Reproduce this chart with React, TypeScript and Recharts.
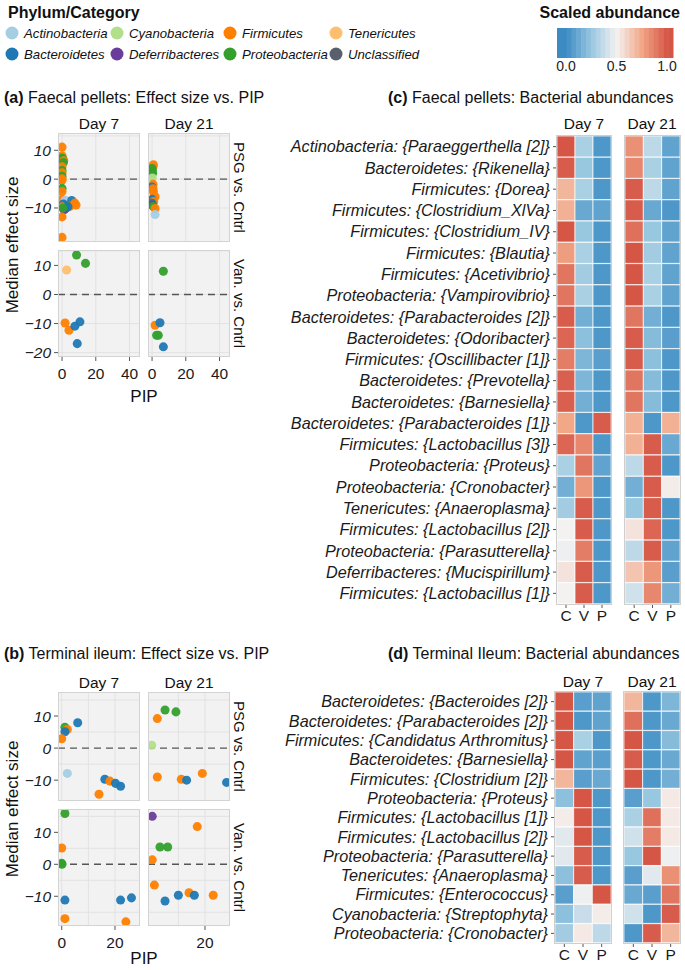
import React from 'react';
import {
  ScatterChart, Scatter, XAxis, YAxis, ZAxis, CartesianGrid, ReferenceLine, Cell, BarChart, Bar,
} from 'recharts';

const FONT = '"Liberation Sans", Arial, Helvetica, sans-serif';

// ---------- legend / categories ----------
const phyla = ['Actinobacteria', 'Bacteroidetes', 'Cyanobacteria', 'Deferribacteres', 'Firmicutes', 'Proteobacteria', 'Tenericutes', 'Unclassified'];
const phylumCodes = ['Ac', 'Ba', 'Cy', 'De', 'Fi', 'Pr', 'Te', 'Un'];
const phylumColors = ['#a6cee3', '#1f78b4', '#b2df8a', '#6a3d9a', '#ff7f00', '#33a02c', '#fdbf6f', '#57606c'];
const legendOrder = ['Actinobacteria', 'Cyanobacteria', 'Firmicutes', 'Tenericutes', 'Bacteroidetes', 'Deferribacteres', 'Proteobacteria', 'Unclassified'];

const dayLabels = ['Day 7', 'Day 21'];
const contrastLabels = ['PSG vs. Cntrl', 'Van. vs. Cntrl'];
const groupLabels = ['C', 'V', 'P'];

// ---------- scatter data: [PIP, median effect size, phylum] ----------
type Pt = [number, number, string];
const faecalPsgDay7: Pt[] = [
  [0, 11.1, 'Fi'], [0, 8.1, 'Fi'], [0, 7.3, 'Pr'], [0.5, 7.0, 'Pr'], [1, 6.4, 'Fi'], [0.8, 5.8, 'Pr'],
  [0, 4.3, 'Fi'], [0, 3.0, 'Pr'], [0, 2.2, 'Fi'], [0, 1.0, 'Pr'], [0, 0.1, 'Fi'], [0, -0.4, 'Fi'],
  [0, -3.2, 'Pr'], [0, -4.3, 'Fi'], [0, -7.0, 'Fi'], [1.8, -7.3, 'Ac'], [5.7, -7.4, 'Ba'], [7.6, -8.3, 'Fi'],
  [8.3, -9.0, 'Fi'], [4.7, -9.4, 'Fi'], [2.7, -9.2, 'Pr'], [0.8, -8.6, 'Ba'], [0, -9.6, 'Fi'], [1.8, -10.3, 'De'],
  [2.6, -9.9, 'Ba'], [1.2, -10.6, 'De'], [3.5, -9.6, 'Ba'], [0.5, -10.0, 'Pr'], [0, -13.1, 'Fi'], [0, -20.2, 'Fi'],
];
const faecalPsgDay21: Pt[] = [
  [0.8, 5.0, 'Fi'], [0.6, 4.3, 'Fi'], [0, 3.7, 'Pr'], [0.2, 2.8, 'Pr'], [0.3, 2.0, 'Pr'], [0.2, 0.4, 'Cy'],
  [0.6, -1.8, 'Fi'], [0, -2.7, 'Ba'], [0.6, -3.3, 'Fi'], [0.8, -4.4, 'Fi'], [1.8, -6.1, 'Fi'], [0, -7.0, 'Ba'],
  [1.0, -7.8, 'Fi'], [0, -8.4, 'Ba'], [0.3, -9.0, 'De'], [0.6, -9.4, 'Pr'], [1.8, -10.2, 'Fi'], [1.8, -12.3, 'Ac'],
];
const faecalVanDay7: Pt[] = [
  [8.6, 13.6, 'Pr'], [13.9, 10.7, 'Pr'], [2.7, 8.4, 'Te'], [1.8, -9.8, 'Fi'], [4.1, -12.3, 'Fi'],
  [7.6, -10.9, 'Ba'], [10.6, -9.4, 'Ba'], [9.0, -16.9, 'Ba'],
];
const faecalVanDay21: Pt[] = [
  [6.7, 8.0, 'Pr'], [1.8, -10.6, 'Fi'], [4.7, -9.7, 'Ba'], [2.7, -14.0, 'Pr'], [3.7, -14.0, 'Pr'], [6.7, -18.0, 'Ba'],
];
const ileumPsgDay7: Pt[] = [
  [1.2, 6.5, 'Pr'], [2.1, 5.8, 'Fi'], [1.2, 5.1, 'Ba'], [0, 2.9, 'Fi'], [6.0, 7.9, 'Ba'], [2.1, -7.9, 'Ac'],
  [16.2, -9.7, 'Ba'], [18.1, -10.3, 'Fi'], [20.2, -11.0, 'Ba'], [22.1, -11.9, 'Ba'], [14.0, -14.4, 'Fi'],
];
const ileumPsgDay21: Pt[] = [
  [2.1, 9.2, 'Fi'], [5.0, 11.9, 'Pr'], [9.1, 11.3, 'Pr'], [0, 0.9, 'Cy'], [2.1, -9.0, 'Fi'],
  [11.1, -9.7, 'Fi'], [13.1, -10.0, 'Ba'], [19.0, -7.9, 'Fi'], [28.1, -10.7, 'Ba'],
];
const ileumVanDay7: Pt[] = [
  [1.2, 15.9, 'Pr'], [0, 5.1, 'Fi'], [0, 0.3, 'Pr'], [0.1, 0.0, 'Pr'], [1.2, -11.2, 'Ba'], [1.2, -17.0, 'Fi'],
  [22.1, -11.2, 'Ba'], [26.2, -10.5, 'Ba'], [24.1, -18.0, 'Fi'],
];
const ileumVanDay21: Pt[] = [
  [0.2, 15.0, 'De'], [17.1, 11.8, 'Fi'], [3.1, 5.4, 'Pr'], [6.0, 5.4, 'Pr'], [0.2, 1.4, 'Fi'], [1.0, -6.5, 'Fi'],
  [5.0, -11.5, 'Ba'], [10.0, -9.7, 'Ba'], [14.0, -8.9, 'Fi'], [16.0, -9.7, 'Ba'], [23.1, -9.7, 'Fi'],
];

// ---------- heatmap data ----------
const faecalTaxa = [
  'Actinobacteria: {Paraeggerthella [2]}', 'Bacteroidetes: {Rikenella}', 'Firmicutes: {Dorea}',
  'Firmicutes: {Clostridium_XlVa}', 'Firmicutes: {Clostridium_IV}', 'Firmicutes: {Blautia}',
  'Firmicutes: {Acetivibrio}', 'Proteobacteria: {Vampirovibrio}', 'Bacteroidetes: {Parabacteroides [2]}',
  'Bacteroidetes: {Odoribacter}', 'Firmicutes: {Oscillibacter [1]}', 'Bacteroidetes: {Prevotella}',
  'Bacteroidetes: {Barnesiella}', 'Bacteroidetes: {Parabacteroides [1]}', 'Firmicutes: {Lactobacillus [3]}',
  'Proteobacteria: {Proteus}', 'Proteobacteria: {Cronobacter}', 'Tenericutes: {Anaeroplasma}',
  'Firmicutes: {Lactobacillus [2]}', 'Proteobacteria: {Parasutterella}', 'Deferribacteres: {Mucispirillum}',
  'Firmicutes: {Lactobacillus [1]}',
];
const faecalDay7C = [1.0, 0.98, 0.7, 0.72, 1.0, 0.78, 0.9, 0.9, 0.98, 0.95, 0.88, 0.97, 0.97, 0.75, 0.95, 0.3, 0.15, 0.28, 0.5, 0.48, 0.55, 0.5];
const faecalDay7V = [0.3, 0.25, 0.3, 0.12, 0.25, 0.3, 0.28, 0.3, 0.15, 0.22, 0.18, 0.18, 0.15, 0.05, 0.85, 0.9, 0.8, 0.98, 0.98, 0.88, 0.98, 0.98];
const faecalDay7P = [0.05, 0.05, 0.05, 0.1, 0.05, 0.05, 0.05, 0.05, 0.05, 0.05, 0.08, 0.05, 0.05, 0.98, 0.05, 0.1, 0.05, 0.05, 0.05, 0.05, 0.05, 0.05];
const faecalDay21C = [0.82, 0.85, 0.98, 0.98, 0.92, 1.0, 1.0, 1.0, 0.9, 0.98, 0.98, 0.9, 0.9, 0.72, 0.72, 0.35, 0.15, 0.25, 0.55, 0.35, 0.65, 0.4];
const faecalDay21V = [0.35, 0.3, 0.35, 0.12, 0.25, 0.28, 0.3, 0.3, 0.15, 0.2, 0.22, 0.2, 0.2, 0.05, 0.98, 0.98, 0.98, 0.98, 0.95, 0.98, 0.8, 0.85];
const faecalDay21P = [0.1, 0.1, 0.1, 0.05, 0.1, 0.1, 0.1, 0.1, 0.05, 0.08, 0.05, 0.05, 0.05, 0.72, 0.12, 0.05, 0.52, 0.05, 0.05, 0.1, 0.08, 0.15];

const ileumTaxa = [
  'Bacteroidetes: {Bacteroides [2]}', 'Bacteroidetes: {Parabacteroides [2]}', 'Firmicutes: {Candidatus Arthromitus}',
  'Bacteroidetes: {Barnesiella}', 'Firmicutes: {Clostridium [2]}', 'Proteobacteria: {Proteus}',
  'Firmicutes: {Lactobacillus [1]}', 'Firmicutes: {Lactobacillus [2]}', 'Proteobacteria: {Parasutterella}',
  'Tenericutes: {Anaeroplasma}', 'Firmicutes: {Enterococcus}', 'Cyanobacteria: {Streptophyta}',
  'Proteobacteria: {Cronobacter}',
];
const ileumDay7C = [1.0, 1.0, 1.0, 1.0, 0.7, 0.22, 0.52, 0.45, 0.45, 0.22, 0.08, 0.22, 0.28];
const ileumDay7V = [0.08, 0.05, 0.3, 0.1, 0.08, 1.0, 1.0, 1.0, 0.98, 0.98, 0.48, 0.38, 0.53];
const ileumDay7P = [0.1, 0.1, 0.05, 0.08, 0.12, 0.05, 0.05, 0.05, 0.05, 0.05, 1.0, 0.52, 0.35];
const ileumDay21C = [0.7, 0.92, 1.0, 0.98, 1.0, 0.08, 0.3, 0.4, 0.25, 0.08, 0.12, 0.4, 0.05];
const ileumDay21V = [0.05, 0.05, 0.05, 0.05, 0.05, 0.25, 0.92, 0.88, 1.0, 0.45, 0.08, 0.05, 0.98];
const ileumDay21P = [0.18, 0.12, 0.2, 0.12, 0.15, 0.53, 0.53, 0.53, 0.48, 0.82, 0.9, 0.98, 0.7];

const colorbarTicks = [0, 0.5, 1];

// ---------- helpers ----------
const colorStops: [number, [number, number, number]][] = [
  [0, [60, 139, 195]],
  [0.25, [152, 199, 224]],
  [0.5, [244, 242, 241]],
  [0.75, [242, 167, 135]],
  [1, [214, 86, 70]],
];
function heatColor(v: number): string {
  const t = Math.max(0, Math.min(1, v));
  for (let i = 0; i < colorStops.length - 1; i++) {
    const [a, ca] = colorStops[i];
    const [b, cb] = colorStops[i + 1];
    if (t <= b) {
      const f = (t - a) / (b - a);
      const c = ca.map((x, k) => Math.round(x + (cb[k] - x) * f));
      return `rgb(${c[0]},${c[1]},${c[2]})`;
    }
  }
  return 'rgb(214,86,70)';
}
const phylumColor = (code: string) => phylumColors[phylumCodes.indexOf(code)];
const toPoints = (arr: Pt[]) => arr.map(([x, y, p]) => ({ x, y, p }));
const fmtMinus = (v: number) => (v < 0 ? '\u2212' + Math.abs(v) : String(v));
const heatRows = (labels: string[], c: number[], v: number[], p: number[]) =>
  labels.map((label, i) => ({ label, w1: 1, w2: 1, w3: 1, c: c[i], v: v[i], p: p[i] }));

// ---------- components ----------
type FacetProps = {
  points: Pt[]; left: number; top: number; width: number; height: number;
  xDomain: [number, number]; yDomain: [number, number]; xTicks: number[]; yTicks: number[];
  xGrid: number[]; yGrid: number[]; showX: boolean; showY: boolean;
};
function Facet(props: FacetProps) {
  const { points, left, top, width, height, xDomain, yDomain, xTicks, yTicks, xGrid, yGrid, showX, showY } = props;
  const yw = showY ? 44 : 0;
  const xh = showX ? 34 : 0;
  const data = toPoints(points);
  return (
    <div style={{ position: 'absolute', left: left - yw, top, width: width + yw, height: height + xh }}>
      <ScatterChart width={width + yw} height={height + xh} margin={{ top: 0, right: 0, bottom: 0, left: 0 }}>
        <CartesianGrid fill="#f2f2f2" stroke="#e2e2e2" horizontalValues={yGrid} verticalValues={xGrid} />
        <XAxis type="number" dataKey="x" domain={xDomain} ticks={xTicks} allowDataOverflow hide={!showX}
          height={showX ? xh : undefined} tickSize={4} tickMargin={7} axisLine={false}
          tickLine={{ stroke: '#555' }} tick={{ fill: '#1a1a1a', fontSize: 15.5 }} />
        <YAxis type="number" dataKey="y" domain={yDomain} ticks={yTicks} allowDataOverflow hide={!showY}
          width={showY ? yw : undefined} tickSize={4} tickMargin={3} axisLine={false}
          tickLine={{ stroke: '#555' }} tick={{ fill: '#1a1a1a', fontSize: 15.5, fontStyle: 'italic' }}
          tickFormatter={fmtMinus} />
        <ZAxis range={[66, 66]} />
        <ReferenceLine y={0} stroke="#555" strokeDasharray="7 5" strokeWidth={1.4} />
        <Scatter data={data} isAnimationActive={false}>
          {data.map((d, i) => (
            <Cell key={i} fill={phylumColor(d.p)} fillOpacity={0.95} />
          ))}
        </Scatter>
      </ScatterChart>
      <div style={{
        position: 'absolute', left: yw, top: 0, width, height, boxSizing: 'border-box',
        border: '1px solid #d3d3d3', pointerEvents: 'none',
      }} />
    </div>
  );
}

type HeatProps = {
  labels: string[]; c: number[]; v: number[]; p: number[];
  left: number; top: number; width: number; height: number; showY: boolean;
};
function Heat(props: HeatProps) {
  const { labels, c, v, p, left, top, width, height, showY } = props;
  const rows = heatRows(labels, c, v, p);
  const yw = showY ? 340 : 0;
  const xh = 26;
  return (
    <div style={{ position: 'absolute', left: left - yw, top, width: width + yw, height: height + xh }}>
      <BarChart layout="vertical" width={width + yw} height={height + xh} data={rows}
        margin={{ top: 0, right: 0, bottom: 0, left: 0 }} barCategoryGap={0} barGap={0}>
        <XAxis type="number" domain={[0, 3]} ticks={[0.5, 1.5, 2.5]} allowDataOverflow axisLine={false}
          tickFormatter={(t: number) => groupLabels[Math.floor(t)]} height={xh} tickSize={4} tickMargin={2}
          tickLine={{ stroke: '#555' }} tick={{ fill: '#1a1a1a', fontSize: 15.5 }} />
        <YAxis type="category" dataKey="label" hide={!showY} width={showY ? yw : undefined} interval={0}
          axisLine={false} tickSize={4} tickMargin={3} tickLine={{ stroke: '#555' }}
          tick={{ fill: '#1a1a1a', fontSize: 16.2, fontStyle: 'italic' }} />
        <Bar dataKey="w1" stackId="s" isAnimationActive={false}>
          {rows.map((r, i) => <Cell key={i} fill={heatColor(r.c)} stroke="#ffffff" strokeOpacity={0.7} strokeWidth={1} />)}
        </Bar>
        <Bar dataKey="w2" stackId="s" isAnimationActive={false}>
          {rows.map((r, i) => <Cell key={i} fill={heatColor(r.v)} stroke="#ffffff" strokeOpacity={0.7} strokeWidth={1} />)}
        </Bar>
        <Bar dataKey="w3" stackId="s" isAnimationActive={false}>
          {rows.map((r, i) => <Cell key={i} fill={heatColor(r.p)} stroke="#ffffff" strokeOpacity={0.7} strokeWidth={1} />)}
        </Bar>
      </BarChart>
      <div style={{
        position: 'absolute', left: yw - 1, top: -1, width: width + 2, height: height + 2, boxSizing: 'border-box',
        border: '1px solid #cfcfcf', pointerEvents: 'none',
      }} />
    </div>
  );
}

function Title({ x, y, tag, text }: { x: number; y: number; tag: string; text: string }) {
  return (
    <text x={x} y={y} fontSize={16} fill="#111" dominantBaseline="central">
      <tspan fontWeight="bold">{tag}</tspan>
      <tspan>{' ' + text}</tspan>
    </text>
  );
}

export default function App() {
  // layout constants (pixels)
  const aCols = [58, 148];
  const colW = 82;
  const bCols = [58, 148];
  const legendCols = [12, 117, 230, 336];
  const legendRows = [33, 54];
  const cbLeft = 557, cbRight = 673, cbTop = 28, cbBottom = 58;
  const cbZero = 566, cbOne = 667;
  const nBands = 24;

  const aGridX = [0, 10, 20, 30, 40];
  const aGridY = [-20, -15, -10, -5, 0, 5, 10, 15];
  const bGridX = [0, 10, 20];
  const bGridY = [-15, -10, -5, 0, 5, 10, 15];

  return (
    <div style={{ position: 'absolute', left: 0, top: 0, width: 685, height: 970, background: '#fff', fontFamily: FONT, overflow: 'hidden' }}>
      {/* Panel (a) */}
      <Facet points={faecalPsgDay7} left={aCols[0]} top={133} width={colW} height={109}
        xDomain={[-2.4, 46.2]} yDomain={[-21.8, 16.0]} xTicks={[0, 20, 40]} yTicks={[-20, -10, 0, 10]}
        xGrid={aGridX} yGrid={aGridY} showX={false} showY={true} />
      <Facet points={faecalPsgDay21} left={aCols[1]} top={133} width={colW} height={109}
        xDomain={[-2.4, 46.2]} yDomain={[-21.8, 16.0]} xTicks={[0, 20, 40]} yTicks={[-20, -10, 0, 10]}
        xGrid={aGridX} yGrid={aGridY} showX={false} showY={false} />
      <Facet points={faecalVanDay7} left={aCols[0]} top={250} width={colW} height={107}
        xDomain={[-2.4, 46.2]} yDomain={[-21.5, 15.3]} xTicks={[0, 20, 40]} yTicks={[-20, -10, 0, 10]}
        xGrid={aGridX} yGrid={aGridY} showX={true} showY={true} />
      <Facet points={faecalVanDay21} left={aCols[1]} top={250} width={colW} height={107}
        xDomain={[-2.4, 46.2]} yDomain={[-21.5, 15.3]} xTicks={[0, 20, 40]} yTicks={[-20, -10, 0, 10]}
        xGrid={aGridX} yGrid={aGridY} showX={true} showY={false} />

      {/* Panel (b) */}
      <Facet points={ileumPsgDay7} left={bCols[0]} top={692} width={colW} height={109}
        xDomain={[-1.4, 29.4]} yDomain={[-16.5, 17.5]} xTicks={[0, 20]} yTicks={[-10, 0, 10]}
        xGrid={bGridX} yGrid={bGridY} showX={false} showY={true} />
      <Facet points={ileumPsgDay21} left={bCols[1]} top={692} width={colW} height={109}
        xDomain={[-1.4, 29.4]} yDomain={[-16.5, 17.5]} xTicks={[0, 20]} yTicks={[-10, 0, 10]}
        xGrid={bGridX} yGrid={bGridY} showX={false} showY={false} />
      <Facet points={ileumVanDay7} left={bCols[0]} top={809} width={colW} height={117}
        xDomain={[-1.4, 29.4]} yDomain={[-19.3, 17.3]} xTicks={[0, 20]} yTicks={[-10, 0, 10]}
        xGrid={bGridX} yGrid={bGridY} showX={true} showY={true} />
      <Facet points={ileumVanDay21} left={bCols[1]} top={809} width={colW} height={117}
        xDomain={[-1.4, 29.4]} yDomain={[-19.3, 17.3]} xTicks={[0, 20]} yTicks={[-10, 0, 10]}
        xGrid={bGridX} yGrid={bGridY} showX={true} showY={false} />

      {/* Panel (c) heatmaps */}
      <Heat labels={faecalTaxa} c={faecalDay7C} v={faecalDay7V} p={faecalDay7P}
        left={557} top={136} width={54} height={468} showY={true} />
      <Heat labels={faecalTaxa} c={faecalDay21C} v={faecalDay21V} p={faecalDay21P}
        left={625} top={136} width={55} height={468} showY={false} />

      {/* Panel (d) heatmaps */}
      <Heat labels={ileumTaxa} c={ileumDay7C} v={ileumDay7V} p={ileumDay7P}
        left={555} top={692} width={56} height={251} showY={true} />
      <Heat labels={ileumTaxa} c={ileumDay21C} v={ileumDay21V} p={ileumDay21P}
        left={624} top={692} width={56} height={251} showY={false} />

      {/* text overlay */}
      <svg width={685} height={970} style={{ position: 'absolute', left: 0, top: 0, pointerEvents: 'none' }}>
        {/* legend */}
        <text x={8} y={12} fontSize={16} fontWeight="bold" fill="#111" dominantBaseline="central">Phylum/Category</text>
        {legendOrder.map((name, i) => {
          const col = i % 4;
          const row = Math.floor(i / 4);
          const cx = legendCols[col];
          const cy = legendRows[row];
          return (
            <g key={name}>
              <circle cx={cx} cy={cy} r={6.5} fill={phylumColors[phyla.indexOf(name)]} />
              <text x={cx + 12} y={cy} fontSize={13.2} fontStyle="italic" fill="#111" dominantBaseline="central">{name}</text>
            </g>
          );
        })}

        {/* colour bar */}
        <text x={680} y={12} fontSize={16} fontWeight="bold" fill="#111" textAnchor="end" dominantBaseline="central">Scaled abundance</text>
        {Array.from({ length: nBands }).map((_, i) => {
          const w = (cbRight - cbLeft) / nBands;
          const x0 = cbLeft + i * w;
          const val = (x0 + w / 2 - cbZero) / (cbOne - cbZero);
          return <rect key={i} x={x0} y={cbTop} width={w + 0.5} height={cbBottom - cbTop} fill={heatColor(val)} />;
        })}
        {colorbarTicks.map((t) => (
          <text key={t} x={cbZero + t * (cbOne - cbZero)} y={66} fontSize={14} fill="#222" textAnchor="middle" dominantBaseline="central">{t.toFixed(1)}</text>
        ))}

        {/* titles */}
        <Title x={4} y={97} tag="(a)" text="Faecal pellets: Effect size vs. PIP" />
        <Title x={388} y={97} tag="(c)" text="Faecal pellets: Bacterial abundances" />
        <Title x={4} y={653} tag="(b)" text="Terminal ileum: Effect size vs. PIP" />
        <Title x={388} y={653} tag="(d)" text="Terminal Ileum: Bacterial abundances" />

        {/* strips (a),(b) */}
        {dayLabels.map((d, i) => (
          <g key={d}>
            <text x={aCols[i] + colW / 2} y={123} fontSize={15.5} fill="#111" textAnchor="middle" dominantBaseline="central">{d}</text>
            <text x={bCols[i] + colW / 2} y={682} fontSize={15.5} fill="#111" textAnchor="middle" dominantBaseline="central">{d}</text>
          </g>
        ))}
        <text transform="translate(239,187.5) rotate(90)" fontSize={15} fill="#111" textAnchor="middle" dominantBaseline="central">{contrastLabels[0]}</text>
        <text transform="translate(239,303.5) rotate(90)" fontSize={15} fill="#111" textAnchor="middle" dominantBaseline="central">{contrastLabels[1]}</text>
        <text transform="translate(239,746.5) rotate(90)" fontSize={15} fill="#111" textAnchor="middle" dominantBaseline="central">{contrastLabels[0]}</text>
        <text transform="translate(239,867.5) rotate(90)" fontSize={15} fill="#111" textAnchor="middle" dominantBaseline="central">{contrastLabels[1]}</text>

        {/* axis titles */}
        <text transform="translate(12,245) rotate(-90)" fontSize={17} fill="#111" textAnchor="middle" dominantBaseline="central">Median effect size</text>
        <text transform="translate(12,809) rotate(-90)" fontSize={17} fill="#111" textAnchor="middle" dominantBaseline="central">Median effect size</text>
        <text x={144} y={396} fontSize={17} fill="#111" textAnchor="middle" dominantBaseline="central">PIP</text>
        <text x={144} y={958} fontSize={17} fill="#111" textAnchor="middle" dominantBaseline="central">PIP</text>

        {/* strips (c),(d) */}
        <text x={584} y={123} fontSize={15.5} fill="#111" textAnchor="middle" dominantBaseline="central">{dayLabels[0]}</text>
        <text x={652} y={123} fontSize={15.5} fill="#111" textAnchor="middle" dominantBaseline="central">{dayLabels[1]}</text>
        <text x={583} y={681} fontSize={15.5} fill="#111" textAnchor="middle" dominantBaseline="central">{dayLabels[0]}</text>
        <text x={652} y={681} fontSize={15.5} fill="#111" textAnchor="middle" dominantBaseline="central">{dayLabels[1]}</text>
      </svg>
    </div>
  );
}
